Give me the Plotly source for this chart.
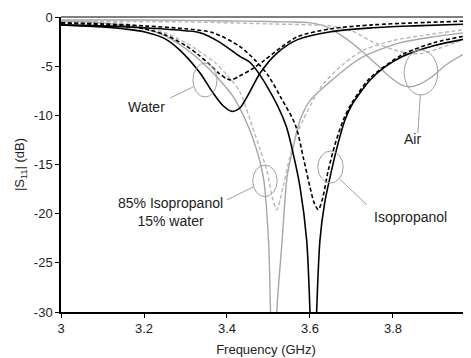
import plotly.graph_objects as go

# ---- data (frequency in GHz, |S11| in dB) ----
water_meas_f = [3.00, 3.05, 3.10, 3.15, 3.20, 3.25, 3.287, 3.335, 3.366, 3.39, 3.412, 3.43, 3.45, 3.48, 3.52, 3.57, 3.65, 3.75, 3.85, 3.99]
water_meas_db = [-0.8, -0.9, -1.0, -1.2, -1.5, -2.2, -3.4, -5.7, -7.7, -9.0, -9.6, -9.3, -8.0, -5.7, -3.7, -2.3, -1.5, -1.1, -0.9, -0.7]

water_sim_f = [3.00, 3.10, 3.20, 3.25, 3.30, 3.33, 3.36, 3.38, 3.40, 3.41, 3.43, 3.46, 3.49, 3.53, 3.57, 3.65, 3.75, 3.85, 3.99]
water_sim_db = [-0.6, -0.8, -1.2, -1.8, -2.9, -3.8, -4.9, -5.7, -6.3, -6.4, -6.0, -5.3, -4.4, -3.1, -2.0, -1.2, -0.8, -0.6, -0.4]

mix_meas_f = [3.00, 3.10, 3.20, 3.25, 3.30, 3.34, 3.38, 3.415, 3.45, 3.47, 3.488, 3.50, 3.505, 3.512, 3.52, 3.532, 3.545, 3.556, 3.576, 3.60, 3.648, 3.70, 3.73, 3.81, 3.90, 3.99]
mix_meas_db = [-0.4, -0.6, -1.2, -1.9, -3.2, -4.6, -6.3, -8.1, -11.0, -13.3, -16.4, -22.7, -30.0, -42.0, -30.0, -23.2, -16.2, -13.9, -10.5, -8.5, -6.6, -4.8, -4.0, -2.7, -2.0, -1.5]

mix_sim_f = [3.00, 3.10, 3.20, 3.25, 3.30, 3.33, 3.37, 3.40, 3.431, 3.46, 3.48, 3.496, 3.51, 3.52, 3.535, 3.55, 3.565, 3.583, 3.61, 3.632, 3.68, 3.728, 3.80, 3.90, 3.99]
mix_sim_db = [-0.3, -0.4, -1.0, -1.6, -2.6, -3.4, -4.6, -5.9, -7.6, -11.0, -13.5, -15.6, -18.5, -19.6, -17.3, -14.5, -12.3, -10.5, -8.3, -6.8, -4.8, -3.4, -2.4, -1.7, -1.2]

iso_meas_f = [3.00, 3.10, 3.20, 3.30, 3.335, 3.38, 3.431, 3.455, 3.50, 3.542, 3.56, 3.576, 3.592, 3.600, 3.608, 3.616, 3.624, 3.635, 3.652, 3.668, 3.684, 3.70, 3.745, 3.78, 3.824, 3.90, 3.99]
iso_meas_db = [-0.8, -0.9, -1.1, -1.4, -1.6, -2.5, -4.0, -4.6, -7.3, -11.0, -14.0, -17.3, -22.7, -30.0, -42.0, -30.0, -22.7, -19.0, -15.6, -12.8, -10.5, -9.0, -6.4, -5.1, -4.0, -2.9, -2.1]

iso_sim_f = [3.00, 3.10, 3.20, 3.30, 3.366, 3.431, 3.47, 3.50, 3.53, 3.565, 3.585, 3.600, 3.61, 3.620, 3.63, 3.644, 3.66, 3.680, 3.70, 3.745, 3.824, 3.90, 3.99]
iso_sim_db = [-0.6, -0.7, -0.9, -1.2, -1.6, -3.0, -4.5, -6.0, -8.2, -11.0, -14.5, -17.3, -18.9, -19.6, -18.5, -15.6, -13.0, -10.5, -8.8, -6.2, -3.8, -2.6, -1.8]

air_meas_f = [3.00, 3.20, 3.40, 3.50, 3.55, 3.60, 3.64, 3.68, 3.72, 3.76, 3.79, 3.82, 3.84, 3.86, 3.89, 3.93, 3.99]
air_meas_db = [-0.3, -0.3, -0.4, -0.45, -0.5, -0.6, -1.0, -2.0, -3.3, -4.8, -6.0, -6.9, -7.1, -6.9, -6.2, -4.8, -3.3]

air_sim_f = [3.00, 3.30, 3.50, 3.60, 3.65, 3.70, 3.75, 3.80, 3.84, 3.87, 3.91, 3.95, 3.99]
air_sim_db = [-0.45, -0.5, -0.7, -0.8, -0.9, -1.4, -2.5, -3.3, -3.7, -3.7, -3.2, -2.6, -2.0]

x_ticks = [3.0, 3.2, 3.4, 3.6, 3.8]
x_tick_labels = ["3", "3.2", "3.4", "3.6", "3.8"]
y_ticks = [0, -5, -10, -15, -20, -25, -30]
y_tick_labels = ["0", "-5", "-10", "-15", "-20", "-25", "-30"]

BLACK = "#000000"
GRAY = "#a6a6a6"
GRAY_D = "#b8b8b8"
DASH = "4px,2.5px"

fig = go.Figure()

def add(f, db, color, dash, width):
    fig.add_trace(go.Scatter(x=f, y=db, mode="lines",
                             line=dict(color=color, dash=dash, width=width, shape="spline", smoothing=0.8),
                             showlegend=False, hoverinfo="skip"))

add(air_meas_f, air_meas_db, GRAY, "solid", 1.4)
add(air_sim_f, air_sim_db, GRAY_D, DASH, 1.4)
add(mix_meas_f, mix_meas_db, GRAY, "solid", 1.4)
add(mix_sim_f, mix_sim_db, GRAY_D, DASH, 1.4)
add(water_meas_f, water_meas_db, BLACK, "solid", 1.6)
add(water_sim_f, water_sim_db, BLACK, DASH, 1.6)
add(iso_meas_f, iso_meas_db, BLACK, "solid", 1.6)
add(iso_sim_f, iso_sim_db, BLACK, DASH, 1.6)

# annotation ellipses and leader lines
ell_color = "#a0a0a0"
ellipses = [
    (3.318, 3.376, -8.14, -4.68),   # water
    (3.827, 3.908, -7.93, -3.36),   # air
    (3.462, 3.521, -18.27, -15.05), # 85% isopropanol
    (3.619, 3.680, -16.88, -13.63), # isopropanol
]
for x0, x1, y0, y1 in ellipses:
    fig.add_shape(type="circle", xref="x", yref="y", x0=x0, x1=x1, y0=y0, y1=y1,
                  line=dict(color=ell_color, width=1))

leaders = [
    (3.318, -7.12, 3.263, -8.24),
    (3.866, -7.93, 3.860, -11.8),
    (3.463, -17.29, 3.40, -18.6),
    (3.672, -16.5, 3.737, -19.1),
]
for x0, y0, x1, y1 in leaders:
    fig.add_shape(type="line", xref="x", yref="y", x0=x0, y0=y0, x1=x1, y1=y1,
                  line=dict(color=ell_color, width=1))

FONT = "Arial, Liberation Sans, sans-serif"
labels = [
    (3.207, -9.15, "Water"),
    (3.847, -12.45, "Air"),
    (3.263, -19.78, "85% Isopropanol<br>15% water"),
    (3.841, -20.3, "Isopropanol"),
]
for x, y, t in labels:
    fig.add_annotation(x=x, y=y, xref="x", yref="y", text=t, showarrow=False,
                       font=dict(family=FONT, size=14, color="#222222"), align="center")

fig.update_layout(
    width=463, height=350,
    margin=dict(l=53, r=0, t=9, b=46),
    paper_bgcolor="white", plot_bgcolor="white",
    font=dict(family=FONT, size=13, color="#222222"),
    xaxis=dict(range=[3.0, 3.988], tickvals=x_ticks, ticktext=x_tick_labels,
               showgrid=False, zeroline=False, showline=True, linecolor="#000000", linewidth=1.5,
               ticks="outside", ticklen=4, tickcolor="#000000", tickfont=dict(size=13),
               title=dict(text="Frequency (GHz)", standoff=10, font=dict(size=13))),
    yaxis=dict(range=[-30, 0], tickvals=y_ticks, ticktext=y_tick_labels,
               showgrid=False, zeroline=True, zerolinecolor="#808080", zerolinewidth=2,
               showline=True, linecolor="#000000", linewidth=1.5,
               ticks="outside", ticklen=4, tickcolor="#000000", tickfont=dict(size=13),
               title=dict(text="|S<sub>11</sub>| (dB)", standoff=6, font=dict(size=13))),
)

fig.write_html("out.html")
